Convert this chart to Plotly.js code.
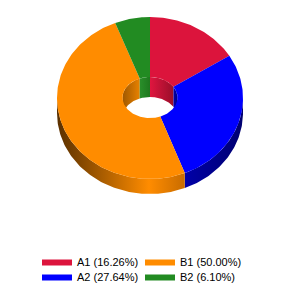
<!DOCTYPE html>
<html>
<head>
<meta charset="utf-8">
<script src="https://cdn.plot.ly/plotly-3.0.1.min.js"></script>
<style>html,body{margin:0;padding:0;background:#fff;}#chart{width:300px;height:300px;}</style>
</head>
<body>
<div id="chart"></div>
<script>
// ---- data ----
var labels = ['A1', 'A2', 'B1', 'B2'];
var values = [16.26, 27.64, 50.00, 6.10];
var colors = ['#DC143C', '#0000FF', '#FF8C00', '#228B22'];
var legendIds = ['legend', 'legend2', 'legend3', 'legend4'];
// shading for side walls (outer rim / inner hole)
var outerShade = [
  [[0, '#0000A8'], [1, '#000070']],
  [[0, '#0000A8'], [1, '#000070']],
  [[0, '#5A3000'], [0.35, '#A85C00'], [0.72, '#FF8C00'], [1, '#C86C00']],
  [[0, '#145214'], [1, '#228B22']]
];
var innerShade = [
  [[0, '#E0163F'], [1, '#9A0E2A']],
  [[0, '#0000B0'], [1, '#000080']],
  [[0, '#A05800'], [1, '#E88200']],
  [[0, '#2A8F2A'], [1, '#1E781E']]
];

// ---- geometry (pixel-like data space) ----
var cx = 150, cy = 98, rx = 93, ry = 81, depth = 15;
var hrx = 27.5, hry = 20.5, hcy = 97.5, hdepth = 20;

function pt(a, Rx, Ry, Cy) {
  var r = a * Math.PI / 180;
  return [cx + Rx * Math.sin(r), Cy - Ry * Math.cos(r)];
}
function arc(a0, a1, Rx, Ry, Cy) {
  var n = Math.max(2, Math.ceil(Math.abs(a1 - a0)));
  var xs = [], ys = [];
  for (var i = 0; i <= n; i++) {
    var p = pt(a0 + (a1 - a0) * i / n, Rx, Ry, Cy);
    xs.push(p[0]); ys.push(p[1]);
  }
  return [xs, ys];
}

var total = values.reduce(function (s, v) { return s + v; }, 0);
var starts = [], ends = [];
var acc = 0;
values.forEach(function (v) {
  starts.push(acc / total * 360);
  acc += v;
  ends.push(acc / total * 360);
});

var innerTraces = [], sideTraces = [], topTraces = [];

values.forEach(function (v, i) {
  var a0 = starts[i], a1 = ends[i];
  // inner wall: back half of the hole
  [[-90, 90], [270, 450]].forEach(function (rng) {
    var lo = Math.max(a0, rng[0]), hi = Math.min(a1, rng[1]);
    if (hi > lo) {
      var t = arc(lo, hi, hrx, hry, hcy);
      var b = arc(hi, lo, hrx, hry, hcy + hdepth);
      var xs = t[0].concat(b[0]), ys = t[1].concat(b[1]);
      innerTraces.push({
        type: 'scatter', mode: 'lines', x: xs, y: ys, fill: 'toself',
        line: {width: 0}, hoverinfo: 'skip', showlegend: false,
        fillgradient: {type: 'horizontal', colorscale: innerShade[i],
          start: Math.min.apply(null, xs), stop: Math.max.apply(null, xs)}
      });
    }
  });
  // outer side wall: front half
  var lo = Math.max(a0, 90), hi = Math.min(a1, 270);
  if (hi > lo) {
    var t = arc(lo, hi, rx, ry, cy);
    var b = arc(hi, lo, rx, ry, cy + depth);
    var xs = t[0].concat(b[0]), ys = t[1].concat(b[1]);
    sideTraces.push({
      type: 'scatter', mode: 'lines', x: xs, y: ys, fill: 'toself',
      line: {width: 0}, hoverinfo: 'skip', showlegend: false,
      fillgradient: {type: 'horizontal', colorscale: outerShade[i],
        start: Math.min.apply(null, xs), stop: Math.max.apply(null, xs)}
    });
  }
  // top face: annular sector
  var o = arc(a0, a1, rx, ry, cy);
  var h = arc(a1, a0, hrx, hry, hcy);
  var pct = (v / total * 100).toFixed(2);
  topTraces.push({
    type: 'scatter', mode: 'lines', name: labels[i] + ' (' + pct + '%)',
    x: o[0].concat(h[0]), y: o[1].concat(h[1]), fill: 'toself',
    fillcolor: colors[i], line: {width: 0, color: colors[i]},
    legend: legendIds[i], hoverinfo: 'name'
  });
});

var data = innerTraces.concat(sideTraces, topTraces);

var legendFont = {family: 'Liberation Sans, Arial, sans-serif', size: 11, color: '#000'};
function leg(x, y) {
  return {x: x, y: y, xanchor: 'left', yanchor: 'top', font: legendFont,
    bgcolor: 'rgba(0,0,0,0)', tracegroupgap: 0, itemwidth: 30};
}
var layout = {
  width: 300, height: 300,
  margin: {l: 0, r: 0, t: 0, b: 0},
  paper_bgcolor: '#fff', plot_bgcolor: '#fff',
  xaxis: {range: [0, 300], visible: false, fixedrange: true},
  yaxis: {range: [300, 0], visible: false, fixedrange: true},
  showlegend: true,
  legend: leg(37 / 300, 1 - 247 / 300),
  legend2: leg(37 / 300, 1 - 262 / 300),
  legend3: leg(140 / 300, 1 - 247 / 300),
  legend4: leg(140 / 300, 1 - 262 / 300)
};

Plotly.newPlot('chart', data, layout, {displayModeBar: false, staticPlot: true});
</script>
</body>
</html>
